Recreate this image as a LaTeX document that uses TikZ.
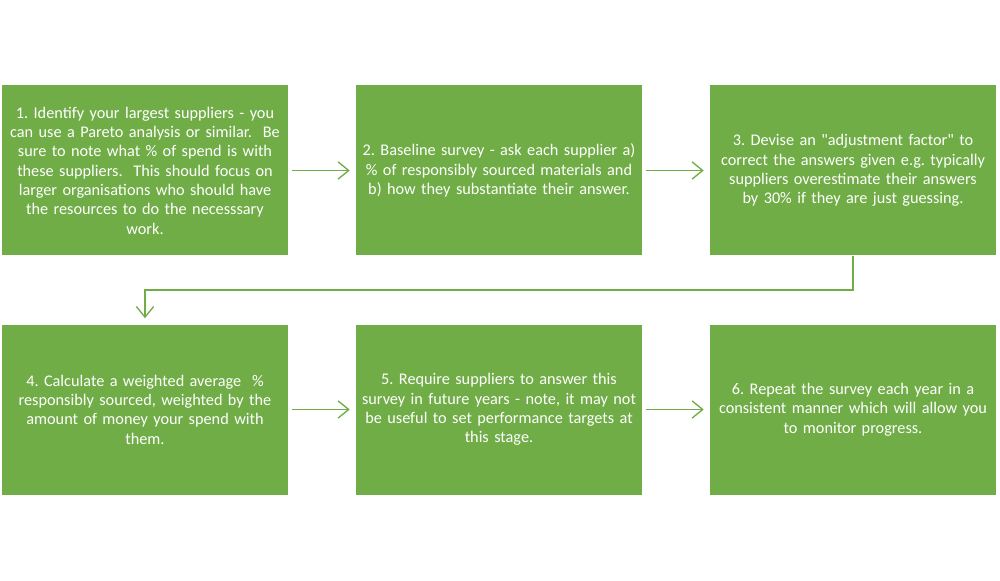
\documentclass[tikz,border=0pt]{standalone}
\usepackage{fontspec}
\setmainfont{Carlito}[Ligatures=TeXOff]
\usetikzlibrary{arrows.meta}
\definecolor{boxgreen}{HTML}{70AD47}
\definecolor{linegreen}{HTML}{70AD47}
\tikzset{
  stepbox/.style={fill=boxgreen, draw=none, minimum width=286*0.75pt, minimum height=170*0.75pt,
    text width=276*0.75pt, align=center, inner sep=0pt, text=white,
    font=\fontsize{12.2pt}{14.5pt}\selectfont},
  flow/.style={draw=linegreen, line width=1.1pt,
    -{Straight Barb[length=8pt,width=13pt,line width=1pt]}, shorten <=3pt, shorten >=4.5pt}
}
\begin{document}
\frenchspacing
\begin{tikzpicture}[x=0.75pt,y=-0.75pt]
\useasboundingbox (0,0) rectangle (1000,581);
\node[stepbox] (b1) at (145,170.5) {1. Identify your largest suppliers - you\\can use a Pareto analysis or similar.\ \ Be\\sure to note what \% of spend is with\\these suppliers.\ \ This should focus on\\larger organisations who should have\\the resources to do the necesssary\\work.};
\node[stepbox] (b2) at (499,170.5) {2. Baseline survey - ask each supplier a)\\\% of responsibly sourced materials and\\b) how they substantiate their answer.};
\node[stepbox] (b3) at (853,170.5) {3. Devise an "adjustment factor" to\\correct the answers given e.g. typically\\suppliers overestimate their answers\\by 30\% if they are just guessing.};
\node[stepbox] (b4) at (145,409.5) {4. Calculate a weighted average\ \ \%\\responsibly sourced, weighted by the\\amount of money your spend with\\them.};
\node[stepbox] (b5) at (499,409.5) {5. Require suppliers to answer this\\survey in future years - note, it may not\\be useful to set performance targets at\\this stage.};
\node[stepbox] (b6) at (853,409.5) {6. Repeat the survey each year in a\\consistent manner which will allow you\\to monitor progress.};
\draw[flow] (b1) -- (b2);
\draw[flow] (b2) -- (b3);
\draw[flow] (b4) -- (b5);
\draw[flow] (b5) -- (b6);
\draw[flow, shorten <=0pt] (b3.south) -- ++(0,34) -| (b4.north);
\end{tikzpicture}
\end{document}
